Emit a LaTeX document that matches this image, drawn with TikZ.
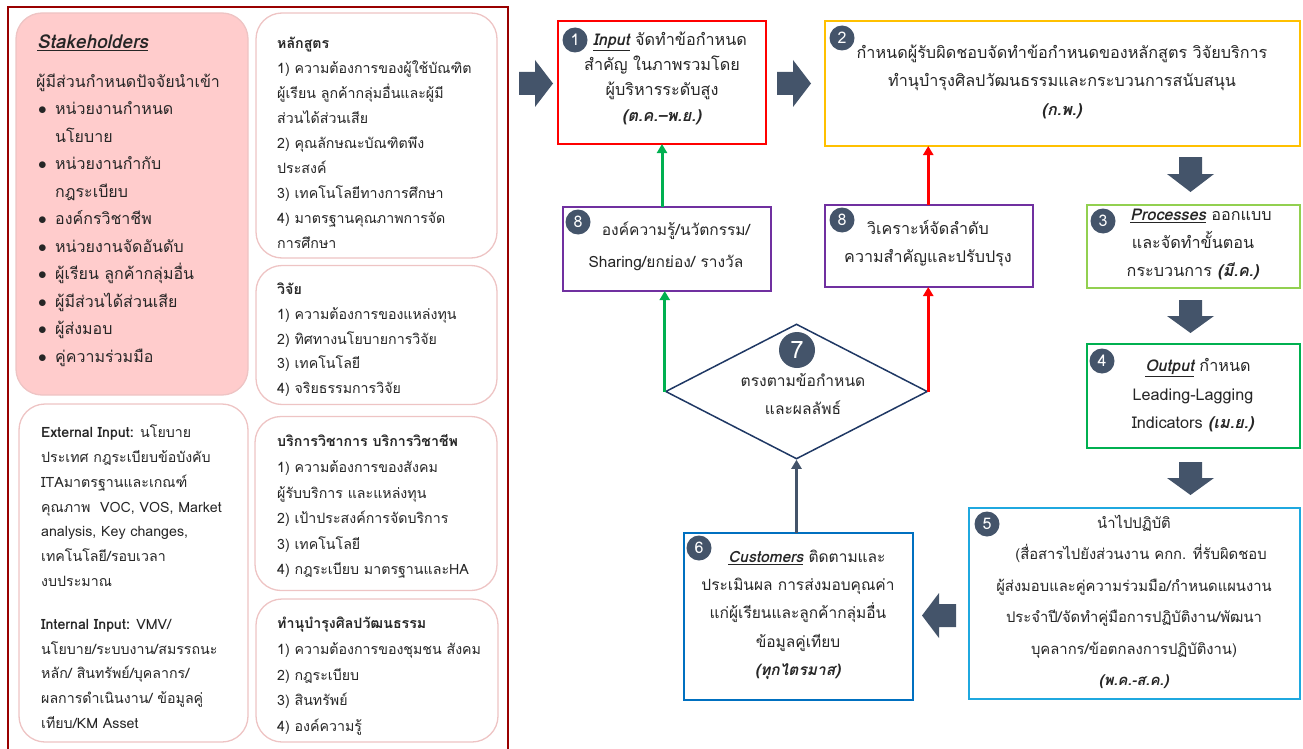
\documentclass[tikz,border=0pt]{standalone}
\usepackage{fontspec}
\setmainfont{Loma}[Script=Thai]
\usetikzlibrary{shapes.geometric,arrows.meta}
\definecolor{slate}{HTML}{44546A}
\definecolor{txt}{HTML}{262626}
\definecolor{frame}{HTML}{990000}
\definecolor{pnkline}{HTML}{EEC4C4}
\definecolor{pnkfill}{HTML}{FFCCCC}
\definecolor{yel}{HTML}{FFC000}
\definecolor{lgreen}{HTML}{92D050}
\definecolor{dgreen}{HTML}{00B050}
\definecolor{cyanb}{HTML}{1FA8DF}
\definecolor{blueb}{HTML}{0070C0}
\definecolor{purp}{HTML}{7030A0}
\definecolor{navy}{HTML}{1F3864}
\newcommand\ttl[1]{\textbf{\textit{\underline{#1}}}}
\newcommand\bi[1]{\textbf{\textit{#1}}}
\newcommand\bul{\makebox[17pt][l]{$\bullet$}}
\tikzset{
  panel/.style={draw=pnkline, line width=1.3pt, rounded corners=26pt, fill=white, inner sep=0pt, outer sep=0pt},
  box/.style={line width=2pt, fill=white, inner sep=0pt, outer sep=0pt},
  tx/.style={inner sep=0pt, text=txt},
  ptx/.style={tx, anchor=north west, align=left, font=\fontsize{14.2}{25}\selectfont},
  btx/.style={tx, anchor=north, align=center},
  num/.style={circle, fill=slate, text=white, inner sep=0pt, minimum size=25pt, font=\fontsize{16}{16}\selectfont},
  conn/.style={line width=3pt, -{Triangle[width=10pt,length=9pt]}},
}
\begin{document}
\begin{tikzpicture}[x=1pt,y=-1pt]
\useasboundingbox (0,0) rectangle (1303,749);
% outer frame
\coordinate (fa) at (8,752);
\coordinate (fb) at (8,7);
\coordinate (fc) at (508,7);
\coordinate (fd) at (508,752);
\draw[frame, line width=2pt] (fa) -- (fb) -- (fc) -- (fd);

% panels
\node[panel, fill=pnkfill, minimum width=232pt, minimum height=382pt] (stk) at (132,204) {};
\node[panel, minimum width=241pt, minimum height=245pt] (cur) at (376.5,135.5) {};
\node[panel, minimum width=241pt, minimum height=139pt] (res) at (376.5,335) {};
\node[panel, minimum width=229pt, minimum height=338pt] (ext) at (133.5,573) {};
\node[panel, minimum width=242pt, minimum height=174pt] (srv) at (376,503.5) {};
\node[panel, minimum width=242pt, minimum height=143pt] (art) at (377,670.5) {};

% stakeholder text
\node[tx, anchor=west, font=\fontsize{19}{21}\selectfont] (stkT) at (37,43) {\ttl{Stakeholders}};
\node[ptx, font=\fontsize{16}{27.5}\selectfont] (stkL) at (36,68) {\strut ผู้มีส่วนกำหนดปัจจัยนำเข้า\\
\hspace*{2pt}\bul หน่วยงานกำหนด\\
\hspace*{2pt}\hspace*{17pt}นโยบาย\\
\hspace*{2pt}\bul หน่วยงานกำกับ\\
\hspace*{2pt}\hspace*{17pt}กฎระเบียบ\\
\hspace*{2pt}\bul องค์กรวิชาชีพ\\
\hspace*{2pt}\bul หน่วยงานจัดอันดับ\\
\hspace*{2pt}\bul ผู้เรียน ลูกค้ากลุ่มอื่น\\
\hspace*{2pt}\bul ผู้มีส่วนได้ส่วนเสีย\\
\hspace*{2pt}\bul ผู้ส่งมอบ\\
\hspace*{2pt}\bul คู่ความร่วมมือ};

\node[ptx] (curT) at (277,30.5) {\strut\textbf{หลักสูตร}\\
1) ความต้องการของผู้ใช้บัณฑิต\\
ผู้เรียน ลูกค้ากลุ่มอื่นและผู้มี\\
ส่วนได้ส่วนเสีย\\
2) คุณลักษณะบัณฑิตพึง\\
ประสงค์\\
3) เทคโนโลยีทางการศึกษา\\
4) มาตรฐานคุณภาพการจัด\\
การศึกษา};

\node[ptx, font=\fontsize{14.2}{24.7}\selectfont] (resT) at (277,277.2) {\strut\textbf{วิจัย}\\
1) ความต้องการของแหล่งทุน\\
2) ทิศทางนโยบายการวิจัย\\
3) เทคโนโลยี\\
4) จริยธรรมการวิจัย};

\node[ptx, font=\fontsize{14.2}{24.8}\selectfont] (extT) at (41,420.2) {\strut\textbf{External Input:} นโยบาย\\
ประเทศ กฎระเบียบข้อบังคับ\\
ITAมาตรฐานและเกณฑ์\\
คุณภาพ~~VOC, VOS, Market\\
analysis, Key changes,\\
เทคโนโลยี/รอบเวลา\\
งบประมาณ\\[18pt]
\textbf{Internal Input:} VMV/\\
นโยบาย/ระบบงาน/สมรรถนะ\\
หลัก/ สินทรัพย์/บุคลากร/\\
ผลการดำเนินงาน/ ข้อมูลคู่\\
เทียบ/KM Asset};

\node[ptx, font=\fontsize{14.2}{25.6}\selectfont] (srvT) at (277,428.7) {\strut\textbf{บริการวิชาการ บริการวิชาชีพ}\\
1) ความต้องการของสังคม\\
ผู้รับบริการ และแหล่งทุน\\
2) เป้าประสงค์การจัดบริการ\\
3) เทคโนโลยี\\
4) กฎระเบียบ มาตรฐานและHA};

\node[ptx, font=\fontsize{14.2}{25.7}\selectfont] (artT) at (277,610.5) {\strut\textbf{ทำนุบำรุงศิลปวัฒนธรรม}\\
1) ความต้องการของชุมชน สังคม\\
2) กฎระเบียบ\\
3) สินทรัพย์\\
4) องค์ความรู้};

% block arrows
\fill[slate] (519,72) -- (535,72) -- (535,60) -- (553,83.5) -- (535,107) -- (535,95) -- (519,95) -- cycle;
\fill[slate] (777,72) -- (793,72) -- (793,60) -- (811,83.5) -- (793,107) -- (793,95) -- (777,95) -- cycle;
\fill[slate] (1179,157) -- (1202,157) -- (1202,174) -- (1214,174) -- (1190.5,192) -- (1167,174) -- (1179,174) -- cycle;
\fill[slate] (1179,300) -- (1202,300) -- (1202,316) -- (1214,316) -- (1190.5,333) -- (1167,316) -- (1179,316) -- cycle;
\fill[slate] (1179,462) -- (1202,462) -- (1202,478) -- (1214,478) -- (1190.5,495) -- (1167,478) -- (1179,478) -- cycle;
\fill[slate] (956,604) -- (939,604) -- (939,593) -- (922,615.5) -- (939,638) -- (939,627) -- (956,627) -- cycle;

% boxes
\node[box, draw=red, minimum width=208pt, minimum height=123pt] (b1) at (662,82.5) {};
\node[box, draw=yel, minimum width=475pt, minimum height=125pt] (b2) at (1062.5,83.5) {};
\node[box, draw=lgreen, minimum width=213pt, minimum height=83pt] (b3) at (1193.5,246.5) {};
\node[box, draw=dgreen, minimum width=213pt, minimum height=104pt] (b4) at (1193.5,396) {};
\node[box, draw=cyanb, minimum width=331pt, minimum height=191pt] (b5) at (1134.5,603.5) {};
\node[box, draw=blueb, minimum width=229pt, minimum height=167pt] (b6) at (798,616.5) {};
\node[box, draw=purp, minimum width=208pt, minimum height=84pt] (b8a) at (667,249) {};
\node[box, draw=purp, minimum width=208pt, minimum height=82pt] (b8b) at (929,246) {};
\node[diamond, draw=navy, line width=1.5pt, fill=white, inner sep=0pt, minimum width=262pt, minimum height=135pt] (dia) at (796.5,391.5) {};

% connectors
\draw[conn, dgreen] (dia.west) -- (dia.west |- b8a.south);
\draw[conn, dgreen] (b8a.north -| b1.south) -- (b1.south);
\draw[conn, red] (dia.east) -- (dia.east |- b8b.south);
\draw[conn, red] (b8b.north -| dia.east) -- (dia.east |- b2.south);
\draw[conn, slate] (b6.north -| dia.south) -- (dia.south);

% box texts
\node[btx, font=\fontsize{16.2}{25.3}\selectfont] (t1) at (662,27.4) {\strut\hspace*{16pt}\ttl{Input} จัดทำข้อกำหนด\\
สำคัญ ในภาพรวมโดย\\
ผู้บริหารระดับสูง\\
\bi{(ต.ค.–พ.ย.)}};
\node[btx, font=\fontsize{16.2}{28.5}\selectfont] (t2) at (1062,38.3) {\strut กำหนดผู้รับผิดชอบจัดทำข้อกำหนดของหลักสูตร วิจัยบริการ\\
ทำนุบำรุงศิลปวัฒนธรรมและกระบวนการสนับสนุน\\
\bi{(ก.พ.)}};
\node[btx, font=\fontsize{16.2}{28}\selectfont] (t3) at (1193,200.4) {\strut\hspace*{16pt}\ttl{Processes} ออกแบบ\\
และจัดทำขั้นตอน\\
กระบวนการ \bi{(มี.ค.)}};
\node[btx, font=\fontsize{16.2}{28.5}\selectfont] (t4) at (1193,351.4) {\strut\hspace*{10pt}\ttl{Output} กำหนด\\
Leading-Lagging\\
Indicators \bi{(เม.ย.)}};
\node[btx, font=\fontsize{14.8}{31.5}\selectfont] (t5) at (1134,505.8) {\strut นำไปปฏิบัติ\\
\hspace*{14pt}(สื่อสารไปยังส่วนงาน คกก. ที่รับผิดชอบ\\
ผู้ส่งมอบและคู่ความร่วมมือ/กำหนดแผนงาน\\
ประจำปี/จัดทำคู่มือการปฏิบัติงาน/พัฒนา\\
บุคลากร/ข้อตกลงการปฏิบัติงาน)\\
\bi{(พ.ค.-ส.ค.)}};
\node[btx, font=\fontsize{15.5}{28.3}\selectfont] (t6) at (798,542.2) {\strut\hspace*{18pt}\ttl{Customers} ติดตามและ\\
ประเมินผล การส่งมอบคุณค่า\\
แก่ผู้เรียนและลูกค้ากลุ่มอื่น\\
ข้อมูลคู่เทียบ\\
\bi{(ทุกไตรมาส)}};
\node[btx, font=\fontsize{15.5}{32}\selectfont] (t8a) at (666,212.6) {\strut\hspace*{20pt}องค์ความรู้/นวัตกรรม/\\
Sharing/ยกย่อง/ รางวัล};
\node[btx, font=\fontsize{16.1}{28}\selectfont] (t8b) at (928,214.6) {\strut วิเคราะห์จัดลำดับ\\
ความสำคัญและปรับปรุง};
\node[btx, font=\fontsize{15.6}{28}\selectfont] (t7) at (803,366.4) {\strut ตรงตามข้อกำหนด\\
และผลลัพธ์};

% number circles
\node[num] (n1) at (575,40) {1};
\node[num] (n2) at (842,38) {2};
\node[num] (n3) at (1103,221) {3};
\node[num] (n4) at (1102,361) {4};
\node[num] (n5) at (987,524) {5};
\node[num] (n6) at (699,548) {6};
\node[num] (n8a) at (578,222) {8};
\node[num] (n8b) at (842,220) {8};
\node[num, minimum size=36pt, font=\fontsize{24}{24}\selectfont] (n7) at (797,350) {7};
\end{tikzpicture}
\end{document}
